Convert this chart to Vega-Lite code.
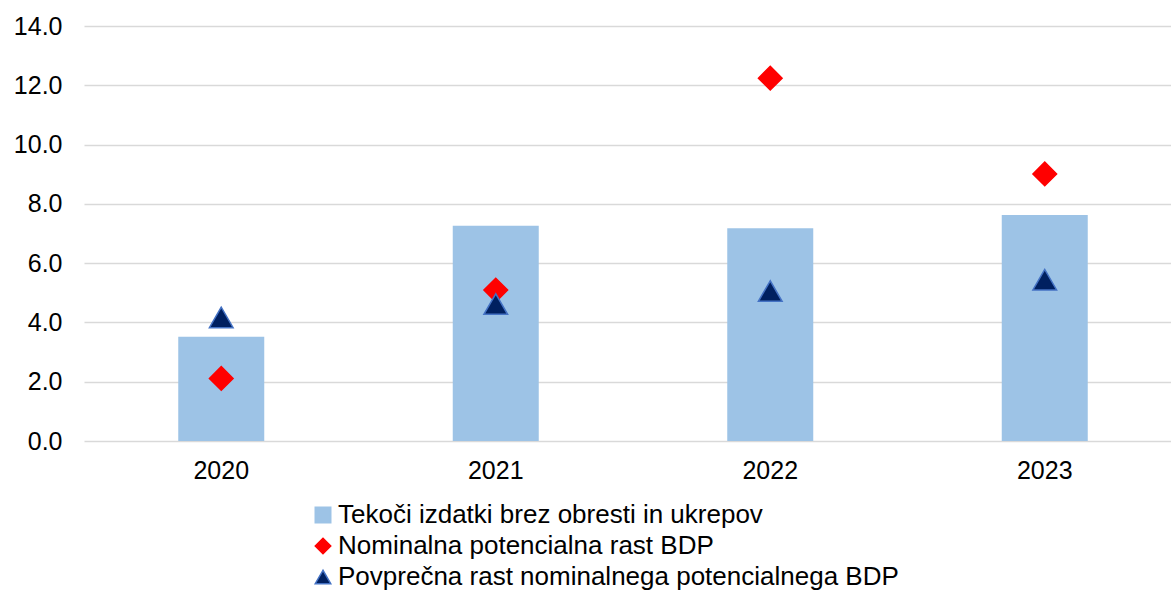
{
  "$schema": "https://vega.github.io/schema/vega-lite/v6.json",
  "width": 1087,
  "height": 415,
  "autosize": {"type": "none"},
  "padding": {"left": 84, "top": 26, "right": 0, "bottom": 149},
  "background": "white",
  "config": {
    "view": {"stroke": null},
    "font": "Liberation Sans",
    "axis": {"labelFont": "Liberation Sans", "labelColor": "#000000"},
    "legend": {"labelFont": "Liberation Sans"}
  },
  "data": {
    "values": [
      {"year": "2020", "series": "Tekoči izdatki brez obresti in ukrepov", "value": 3.52},
      {"year": "2021", "series": "Tekoči izdatki brez obresti in ukrepov", "value": 7.26},
      {"year": "2022", "series": "Tekoči izdatki brez obresti in ukrepov", "value": 7.18},
      {"year": "2023", "series": "Tekoči izdatki brez obresti in ukrepov", "value": 7.62},
      {"year": "2020", "series": "Nominalna potencialna rast BDP", "value": 2.11},
      {"year": "2021", "series": "Nominalna potencialna rast BDP", "value": 5.09},
      {"year": "2022", "series": "Nominalna potencialna rast BDP", "value": 12.24},
      {"year": "2023", "series": "Nominalna potencialna rast BDP", "value": 9.01},
      {"year": "2020", "series": "Povprečna rast nominalnega potencialnega BDP", "value": 4.17},
      {"year": "2021", "series": "Povprečna rast nominalnega potencialnega BDP", "value": 4.62},
      {"year": "2022", "series": "Povprečna rast nominalnega potencialnega BDP", "value": 5.06},
      {"year": "2023", "series": "Povprečna rast nominalnega potencialnega BDP", "value": 5.44}
    ]
  },
  "encoding": {
    "x": {
      "field": "year", "type": "nominal",
      "scale": {"range": [0, 1098], "paddingInner": 0, "paddingOuter": 0},
      "axis": {"title": null, "labelAngle": 0, "ticks": false, "domain": false, "labelFontSize": 25, "labelPadding": 17, "grid": false}
    },
    "y": {
      "field": "value", "type": "quantitative",
      "scale": {"domain": [0, 14], "nice": false},
      "axis": {"title": null, "values": [0, 2, 4, 6, 8, 10, 12, 14], "format": ".1f", "ticks": false, "domain": false, "labelFontSize": 25, "labelPadding": 22, "gridColor": "#D9D9D9", "gridWidth": 1.5}
    },
    "color": {
      "field": "series", "type": "nominal",
      "scale": {
        "domain": ["Tekoči izdatki brez obresti in ukrepov", "Nominalna potencialna rast BDP", "Povprečna rast nominalnega potencialnega BDP"],
        "range": ["#9DC3E6", "#FF0000", "#002060"]
      },
      "legend": {
        "title": null, "orient": "none", "legendX": 226, "legendY": 476,
        "labelFontSize": 26, "labelColor": "#000000", "symbolSize": 240,
        "rowPadding": 5, "labelOffset": 2, "symbolStrokeWidth": 1.5, "padding": 0, "labelLimit": 900
      }
    },
    "shape": {
      "field": "series", "type": "nominal",
      "scale": {
        "domain": ["Tekoči izdatki brez obresti in ukrepov", "Nominalna potencialna rast BDP", "Povprečna rast nominalnega potencialnega BDP"],
        "range": ["square", "diamond", "triangle-up"]
      }
    },
    "stroke": {
      "field": "series", "type": "nominal",
      "scale": {
        "domain": ["Tekoči izdatki brez obresti in ukrepov", "Nominalna potencialna rast BDP", "Povprečna rast nominalnega potencialnega BDP"],
        "range": ["#9DC3E6", "#FF0000", "#4472C4"]
      }
    }
  },
  "layer": [
    {
      "transform": [{"filter": "datum.series === 'Tekoči izdatki brez obresti in ukrepov'"}],
      "mark": {"type": "bar", "width": 86, "strokeWidth": 0}
    },
    {
      "transform": [{"filter": "datum.series !== 'Tekoči izdatki brez obresti in ukrepov'"}],
      "mark": {"type": "point", "filled": true, "size": 560, "strokeWidth": 1.5, "opacity": 1}
    }
  ]
}
